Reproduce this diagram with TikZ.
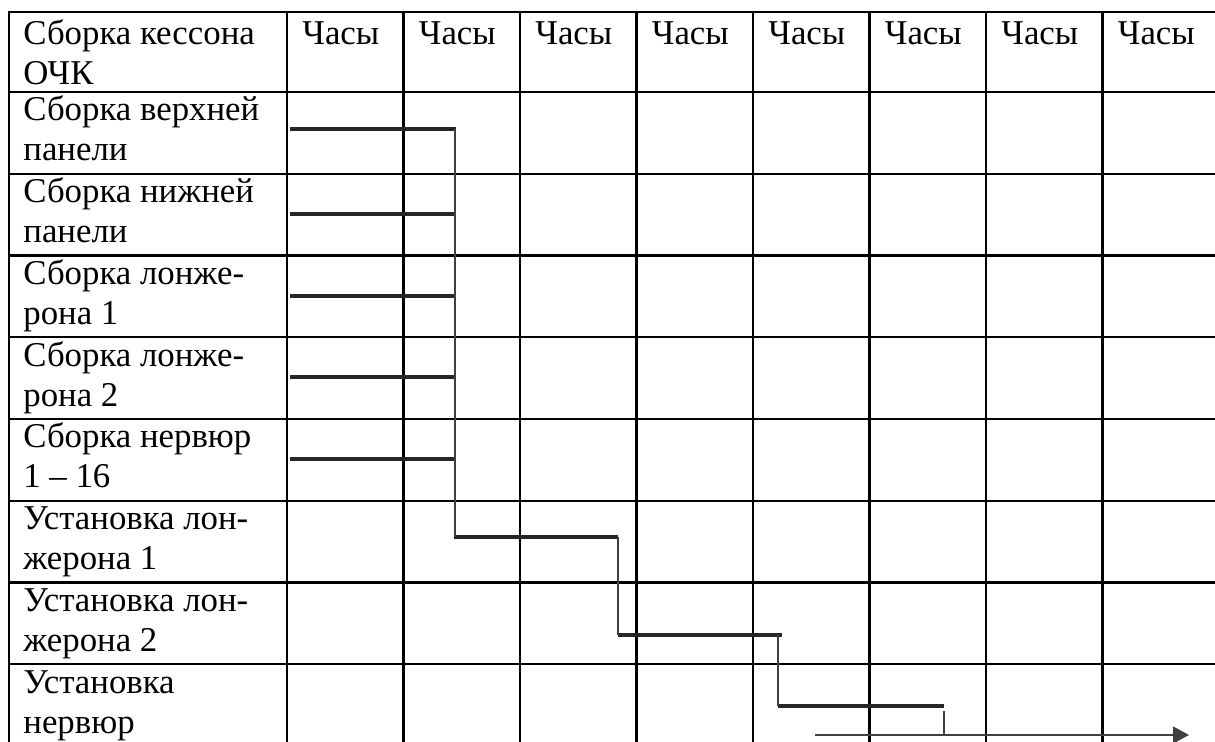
\documentclass[tikz,border=0pt]{standalone}
\usepackage{fontspec}
\setmainfont{Liberation Serif}
\usetikzlibrary{arrows.meta}

% two text lines in one cell, anchored on the first baseline
\newcommand{\cellrows}[2]{\parbox[t]{6cm}{#1\\#2}}

\begin{document}
\begin{tikzpicture}[x=0.5pt, y=-0.5pt,
			% Define styles
			grid/.style={line width=1.2pt, draw=black, line cap=rect},
			bar/.style={line width=2pt, draw=black!85},
			link/.style={line width=0.75pt, draw=black!75},
			timeline/.style={-{Triangle[length=8pt, width=8.5pt]}, line width=0.75pt, draw=black!75},
			celltext/.style={anchor=base west, inner sep=0pt, font=\fontsize{17.4}{20}\selectfont}
			]
			
			\path[use as bounding box, clip] (0,0) rectangle (1215,742);
			
			% Table lines
			\foreach \y in {12, 92, 173.75, 255.5, 337.25, 419, 500.75, 582.5, 664.25, 746}
			\draw[grid] (9,\y) -- (1219,\y);
			\foreach \x in {9, 287, 403.5, 520, 636.5, 753, 869.5, 986, 1102.5, 1219}
			\draw[grid] (\x,12) -- (\x,746);
			
			% Header
			\node[celltext] (title) at (23,45) {\cellrows{Сборка кессона}{ОЧК}};
			\foreach \i in {1,...,8}
			\node[celltext] (hour\i) at ({302+116.5*(\i-1)},45) {Часы};
			
			% Operations
			\foreach \a/\b [count=\i] in {Сборка верхней/панели, Сборка нижней/панели, Сборка лонже-/рона 1, Сборка лонже-/рона 2, Сборка нервюр/1 – 16, Установка лон-/жерона 1, Установка лон-/жерона 2, Установка/нервюр}
			\node[celltext] (op\i) at (23,{121+81.75*(\i-1)}) {\cellrows{\a}{\b}};
			
			% Parallel assemblies
			\foreach \y [count=\i] in {129, 214, 296, 377, 459} {
				\coordinate (a\i) at (290,\y);
				\coordinate (b\i) at (456,\y);
				\draw[bar] (a\i) -- (b\i);
			}
			
			% Sequential installation steps
			\coordinate (a6) at (454,537);
			\coordinate (b6) at (618,537);
			\coordinate (a7) at (618,635);
			\coordinate (b7) at (782,635);
			\coordinate (a8) at (778,706);
			\coordinate (b8) at (944,706);
			\coordinate (tick) at (944,711);
			\coordinate (t0) at (815,735);
			\coordinate (t1) at (1189,735);
			
			\draw[bar] (a6) -- (b6);
			\draw[bar] (a7) -- (b7);
			\draw[bar] (a8) -- (b8);
			
			% Links between steps
			\draw[link] (455,129) -- (455,537);
			\draw[link] (b6) -- (a7);
			\draw[link] (a8 |- a7) -- (a8);
			\draw[link] (tick) -- (tick |- t0);
			
			% Time axis
			\draw[timeline] (t0) -- (t1);
			
		\end{tikzpicture}
\end{document}
